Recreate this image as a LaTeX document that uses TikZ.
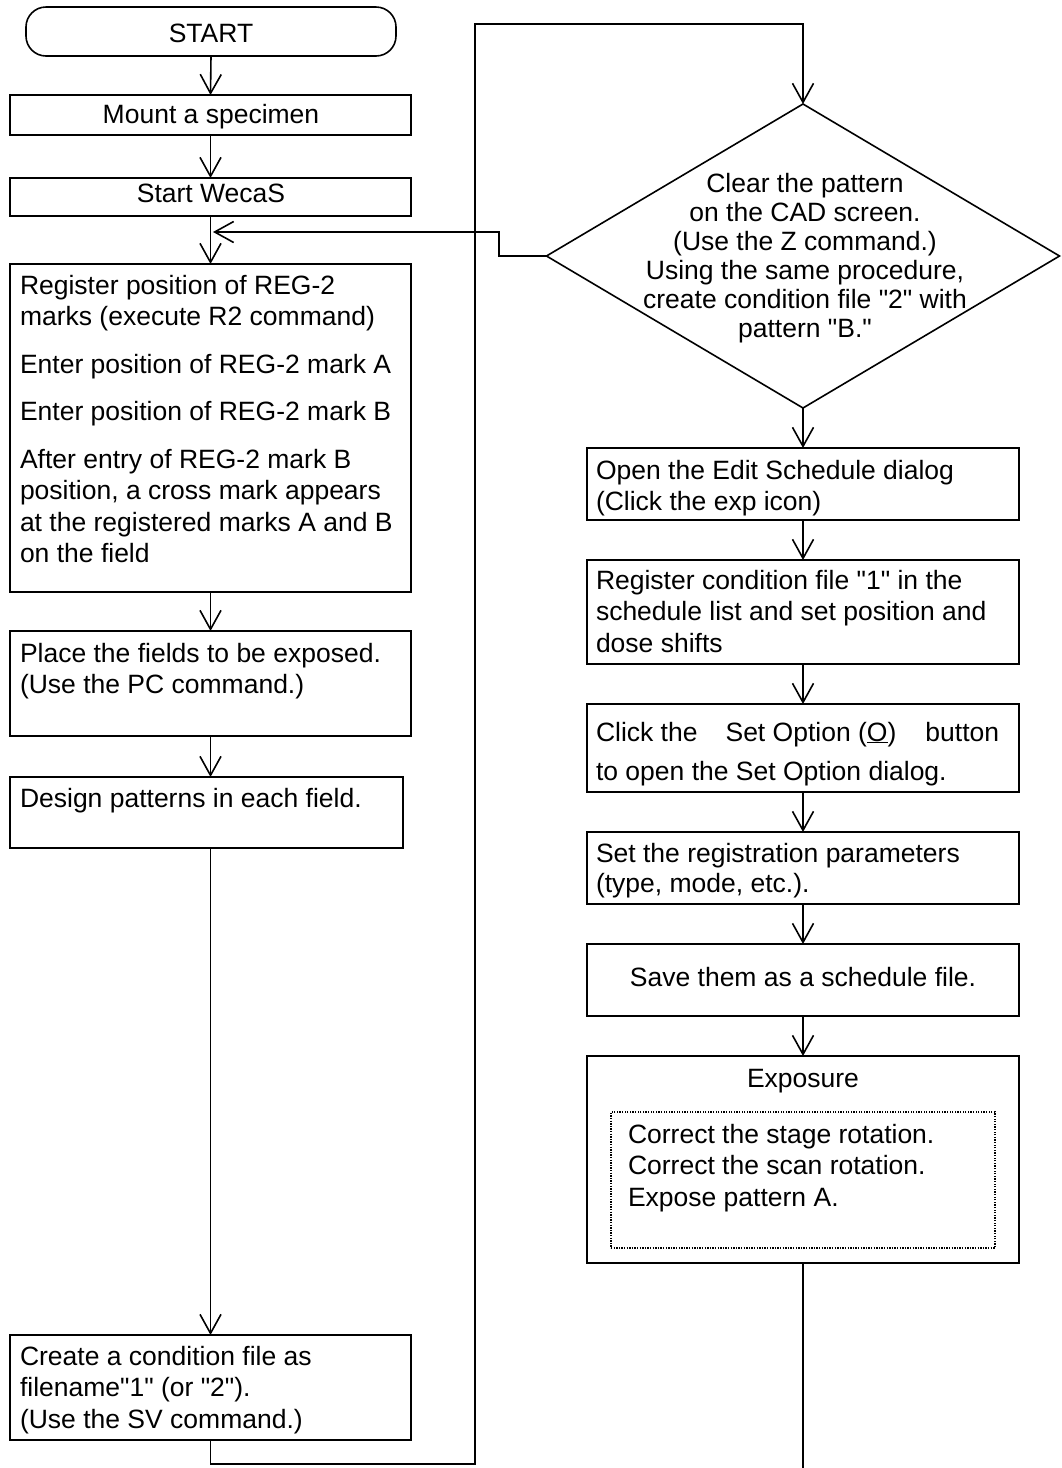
\documentclass[tikz,border=0pt]{standalone}
\usepackage{fontspec}
\setmainfont{Liberation Sans}
\usetikzlibrary{arrows.meta,shapes.geometric}
\newcommand{\dq}{\textquotedbl}
\begin{document}
\begin{tikzpicture}[x=1pt,y=-1pt,
  every node/.style={inner sep=0pt,outer sep=0pt},
  txt/.style={font=\fontsize{26.5}{31.5}\selectfont, anchor=base west},
  ctxt/.style={font=\fontsize{26.5}{31.5}\selectfont, anchor=base},
  box/.style={draw, line width=1.6pt, rectangle, anchor=north west},
  flow/.style={line width=1.6pt, -{Straight Barb[length=19pt,width=21pt]}},
  link/.style={line width=1.6pt},
]
\useasboundingbox (0,0) rectangle (1061,1468);

% ---------- left column ----------
\node[box, rounded corners=20pt, minimum width=370pt, minimum height=49pt] (start) at (26,7) {};
\node[box, minimum width=401pt, minimum height=40pt]  (mount)  at (10,95)   {};
\node[box, minimum width=401pt, minimum height=38pt]  (wecas)  at (10,178)  {};
\node[box, minimum width=401pt, minimum height=328pt] (reg2)   at (10,264)  {};
\node[box, minimum width=401pt, minimum height=105pt] (place)  at (10,631)  {};
\node[box, minimum width=393pt, minimum height=71pt]  (design) at (10,777)  {};
\node[box, minimum width=401pt, minimum height=105pt] (create) at (10,1335) {};

\node[ctxt] (tstart) at (211,42)  {START};
\node[ctxt] (tmount) at (211,123) {Mount a specimen};
\node[ctxt] (twecas) at (211,202) {Start WecaS};
\node[txt] (treg2) at (20,294) {\parbox[t]{385pt}{Register position of REG-2\\
  marks (execute R2 command)\\[16pt]
  Enter position of REG-2 mark A\\[16pt]
  Enter position of REG-2 mark B\\[16pt]
  After entry of REG-2 mark B\\
  position, a cross mark appears\\
  at the registered marks A and B\\
  on the field}};
\node[txt] (tplace) at (20,662) {\parbox[t]{385pt}{Place the fields to be exposed.\\
  (Use the PC command.)}};
\node[txt] (tdesign) at (20,807) {Design patterns in each field.};
\node[txt] (tcreate) at (20,1365) {\parbox[t]{385pt}{Create a condition file as\\
  filename\dq1\dq{} (or \dq2\dq).\\
  (Use the SV command.)}};

% ---------- right column ----------
\node[draw, line width=1.6pt, diamond, minimum width=513pt, minimum height=304pt] (dia) at (803,256) {};
\node[box, minimum width=432pt, minimum height=72pt]  (edit)  at (587,448)  {};
\node[box, minimum width=432pt, minimum height=104pt] (regc)  at (587,560)  {};
\node[box, minimum width=432pt, minimum height=88pt]  (click) at (587,704)  {};
\node[box, minimum width=432pt, minimum height=72pt]  (setp)  at (587,832)  {};
\node[box, minimum width=432pt, minimum height=72pt]  (save)  at (587,944)  {};
\node[box, minimum width=432pt, minimum height=207pt] (expo)  at (587,1056) {};
\node[draw, line width=1.3pt, dash pattern=on 1.3pt off 1.3pt, rectangle, anchor=north west,
      minimum width=384pt, minimum height=136pt] (steps) at (611,1112) {};

\node[anchor=base, font=\fontsize{26.5}{29}\selectfont] (tdia) at (805,192)
  {\parbox[t]{500pt}{\centering Clear the pattern\\
  on the CAD screen.\\
  (Use the Z command.)\\
  Using the same procedure,\\
  create condition file \dq2\dq{} with\\
  pattern \dq B.\dq}};
\node[txt] (tedit) at (596,479) {\parbox[t]{420pt}{Open the Edit Schedule dialog\\
  (Click the exp icon)}};
\node[txt] (tregc) at (596,589) {\parbox[t]{420pt}{Register condition file \dq1\dq{} in the\\
  schedule list and set position and\\
  dose shifts}};
\node[txt] (tclick) at (596,741) {\parbox[t]{420pt}{Click the\hspace{28pt}Set Option (\underline{O})\hspace{29pt}button\\[7.5pt]
  to open the Set Option dialog.}};
\node[txt] (tsetp) at (596,862) {\parbox[t]{420pt}{Set the registration parameters\\[-1.5pt]
  (type, mode, etc.).}};
\node[ctxt] (tsave) at (803,986)  {Save them as a schedule file.};
\node[ctxt] (texpo) at (803,1087) {Exposure};
\node[txt] (tsteps) at (628,1143) {\parbox[t]{360pt}{Correct the stage rotation.\\
  Correct the scan rotation.\\
  Expose pattern A.}};

% ---------- connectors ----------
\coordinate (loopA) at (475,1464);
\coordinate (loopB) at (475,24);
\coordinate (fbA)   at (499,256);
\coordinate (fbB)   at (499,232);
\coordinate (fbEnd) at (213,232);
\coordinate (exitB) at (803,1468);

\draw[flow] (start.south) -- (mount.north);
\draw[flow] (mount.south) -- (wecas.north);
\draw[flow] (wecas.south) -- (reg2.north);
\draw[flow] (reg2.south) -- (place.north);
\draw[flow] (place.south) -- (place.south |- design.north);
\draw[flow] (place.south |- design.south) -- (create.north);
\draw[flow] (create.south) |- (loopA) -- (loopB) -| (dia.north);
\draw[flow] (dia.west) -- (fbA) -- (fbB) -- (fbEnd);

\draw[flow] (dia.south)   -- (edit.north);
\draw[flow] (edit.south)  -- (regc.north);
\draw[flow] (regc.south)  -- (click.north);
\draw[flow] (click.south) -- (setp.north);
\draw[flow] (setp.south)  -- (save.north);
\draw[flow] (save.south)  -- (expo.north);
\draw[link] (expo.south)  -- (exitB);
\end{tikzpicture}
\end{document}
